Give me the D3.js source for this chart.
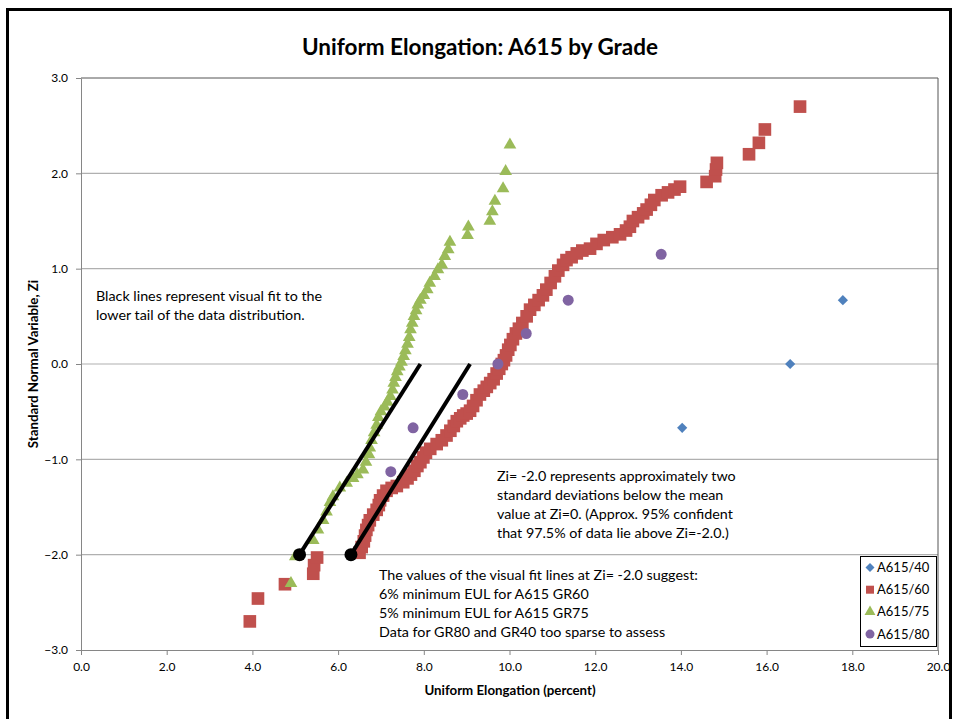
<!DOCTYPE html>
<html>
<head>
<meta charset="utf-8">
<script src="https://cdn.jsdelivr.net/npm/d3@7"></script>
<style>
  body { margin: 0; background: #fff; }
  text { font-family: Lato, "Open Sans", sans-serif; fill: #000; }
</style>
</head>
<body>
<div id="chart"></div>
<script>
// ---- data ----
var xTicks = [0, 2, 4, 6, 8, 10, 12, 14, 16, 18, 20];
var yTicks = [-3, -2, -1, 0, 1, 2, 3];
var seriesNames = ["A615/40", "A615/60", "A615/75", "A615/80"];

// A615/40 : [elongation, Zi]
var gr40 = [[14.03, -0.67], [16.55, 0.0], [17.78, 0.67]];

// A615/60
var gr60 = [
  [3.94, -2.70], [4.13, -2.46], [4.76, -2.31], [5.42, -2.20], [5.44, -2.11], [5.51, -2.03],
  [6.50, -1.98], [6.55, -1.92], [6.60, -1.86], [6.63, -1.80], [6.66, -1.74], [6.70, -1.69],
  [6.74, -1.64], [6.82, -1.58], [6.90, -1.53], [6.95, -1.48], [6.98, -1.43], [7.05, -1.38],
  [7.13, -1.33], [7.25, -1.30], [7.37, -1.28], [7.52, -1.24], [7.62, -1.20], [7.70, -1.16],
  [7.78, -1.12], [7.85, -1.07], [7.92, -1.03], [7.99, -0.98], [8.05, -0.93], [8.15, -0.89],
  [8.30, -0.84], [8.42, -0.80], [8.53, -0.75], [8.62, -0.70], [8.70, -0.65], [8.77, -0.60],
  [8.85, -0.57], [8.92, -0.54], [9.00, -0.52], [9.08, -0.49], [9.15, -0.44], [9.23, -0.38],
  [9.31, -0.32], [9.40, -0.28], [9.47, -0.24], [9.55, -0.20], [9.63, -0.16], [9.70, -0.10],
  [9.76, -0.05], [9.82, 0.00], [9.87, 0.04], [9.92, 0.09], [9.97, 0.15], [10.02, 0.20],
  [10.08, 0.26], [10.15, 0.32], [10.22, 0.37], [10.30, 0.43], [10.40, 0.50], [10.48, 0.57],
  [10.58, 0.62], [10.68, 0.67], [10.78, 0.72], [10.86, 0.78], [10.96, 0.85], [11.06, 0.92],
  [11.14, 0.98], [11.25, 1.04], [11.33, 1.09], [11.45, 1.12], [11.57, 1.16], [11.70, 1.19],
  [11.88, 1.21], [12.03, 1.26], [12.20, 1.30], [12.40, 1.33], [12.58, 1.36], [12.72, 1.40],
  [12.81, 1.44], [12.88, 1.50], [13.00, 1.54], [13.12, 1.58], [13.20, 1.62], [13.30, 1.67],
  [13.38, 1.72], [13.55, 1.77], [13.70, 1.80], [13.85, 1.83], [13.98, 1.86], [14.60, 1.91],
  [14.80, 1.97], [14.82, 2.04], [14.84, 2.11], [15.59, 2.20], [15.82, 2.32], [15.96, 2.46],
  [16.78, 2.70]
];

// A615/75
var gr75 = [
  [4.90, -2.30], [5.00, -2.02], [5.42, -1.85], [5.53, -1.74], [5.65, -1.64], [5.73, -1.55],
  [5.81, -1.45], [5.88, -1.39], [6.04, -1.30], [6.20, -1.25], [6.35, -1.20], [6.45, -1.16],
  [6.58, -1.11], [6.65, -1.03], [6.72, -0.95], [6.74, -0.88], [6.78, -0.80], [6.84, -0.72],
  [6.90, -0.64], [6.94, -0.56], [7.00, -0.50], [7.08, -0.45], [7.15, -0.40], [7.22, -0.34],
  [7.27, -0.27], [7.30, -0.20], [7.34, -0.14], [7.38, -0.08], [7.43, -0.03], [7.48, 0.02],
  [7.53, 0.08], [7.57, 0.14], [7.62, 0.21], [7.66, 0.28], [7.69, 0.36], [7.73, 0.43],
  [7.77, 0.50], [7.82, 0.56], [7.86, 0.62], [7.92, 0.67], [8.00, 0.72], [8.08, 0.78],
  [8.14, 0.85], [8.25, 0.92], [8.33, 0.99], [8.42, 1.04], [8.49, 1.13], [8.57, 1.20],
  [8.61, 1.28], [9.02, 1.35], [9.04, 1.44], [9.54, 1.50], [9.60, 1.60], [9.66, 1.71],
  [9.85, 1.84], [9.91, 2.02], [10.01, 2.30]
];

// A615/80
var gr80 = [[7.23, -1.13], [7.75, -0.67], [8.91, -0.32], [9.73, 0.0], [10.39, 0.32], [11.37, 0.67], [13.54, 1.15]];

// visual fit lines [x at Zi=-2, x at Zi=0]
var fitLines = [[5.1, -2.0, 7.92, 0.0], [6.3, -2.0, 9.08, 0.0]];

var colors = ["#4F81BD", "#C0504D", "#9BBB59", "#8064A2"];

// ---- layout ----
var W = 954, H = 719;
var svg = d3.select("#chart").append("svg")
  .attr("width", W).attr("height", H);

// outer frame
svg.append("rect")
  .attr("x", 7.5).attr("y", 9.5)
  .attr("width", 943).attr("height", 760)
  .attr("fill", "none").attr("stroke", "#000").attr("stroke-width", 3);

var x = d3.scaleLinear().domain([0, 20]).range([81, 938]);
var y = d3.scaleLinear().domain([-3, 3]).range([650, 78]);

// title
svg.append("text")
  .attr("x", 480).attr("y", 55)
  .attr("text-anchor", "middle")
  .style("font-size", "22.5px").style("font-weight", "bold")
  .text("Uniform Elongation: A615 by Grade");

// gridlines
svg.append("g").selectAll("line")
  .data(yTicks.filter(function(d) { return d > -3 && d < 3; }))
  .enter().append("line")
  .attr("x1", x(0)).attr("x2", x(20))
  .attr("y1", function(d) { return y(d); })
  .attr("y2", function(d) { return y(d); })
  .attr("stroke", "#b0b0b0").attr("stroke-width", 1.2);

// plot area border top / right
svg.append("path")
  .attr("d", "M" + x(0) + "," + y(3) + "H" + x(20) + "V" + y(-3))
  .attr("fill", "none").attr("stroke", "#555").attr("stroke-width", 1);

// axes
var xAxis = svg.append("g")
  .attr("transform", "translate(0," + y(-3) + ")")
  .call(d3.axisBottom(x).tickValues(xTicks).tickFormat(d3.format(".1f"))
    .tickSize(5).tickSizeOuter(0).tickPadding(7));
var yAxis = svg.append("g")
  .attr("transform", "translate(" + x(0) + ",0)")
  .call(d3.axisLeft(y).tickValues(yTicks).tickFormat(d3.format(".1f"))
    .tickSize(5).tickSizeOuter(0).tickPadding(8));
[xAxis, yAxis].forEach(function(a) {
  a.select(".domain").attr("stroke", "#868686");
  a.selectAll(".tick line").attr("stroke", "#868686");
  a.selectAll(".tick text").style("font-size", "12px").style("font-family", "Lato, sans-serif");
});

// axis titles
svg.append("text")
  .attr("x", 510).attr("y", 695)
  .attr("text-anchor", "middle")
  .style("font-size", "13.3px").style("font-weight", "bold")
  .text("Uniform Elongation (percent)");
svg.append("text")
  .attr("transform", "translate(38,364) rotate(-90)")
  .attr("text-anchor", "middle")
  .style("font-size", "13.3px").style("font-weight", "bold")
  .text("Standard Normal Variable, Zi");

// markers
var symbols = [
  d3.symbol().type(d3.symbolSquare).size(52),
  d3.symbol().type(d3.symbolSquare).size(160),
  d3.symbol().type(d3.symbolTriangle).size(70),
  d3.symbol().type(d3.symbolCircle).size(95)
];
var rot = [45, 0, 0, 0];
var allSeries = [gr40, gr60, gr75, gr80];

allSeries.forEach(function(s, i) {
  svg.append("g").selectAll("path")
    .data(s).enter().append("path")
    .attr("d", symbols[i])
    .attr("transform", function(d) {
      return "translate(" + x(d[0]) + "," + y(d[1]) + ") rotate(" + rot[i] + ")";
    })
    .attr("fill", colors[i]);
});

// visual fit lines
var fit = svg.append("g");
fit.selectAll("line").data(fitLines).enter().append("line")
  .attr("x1", function(d) { return x(d[0]); })
  .attr("y1", function(d) { return y(d[1]); })
  .attr("x2", function(d) { return x(d[2]); })
  .attr("y2", function(d) { return y(d[3]); })
  .attr("stroke", "#000").attr("stroke-width", 4);
fit.selectAll("circle").data(fitLines).enter().append("circle")
  .attr("cx", function(d) { return x(d[0]); })
  .attr("cy", function(d) { return y(d[1]); })
  .attr("r", 6.5).attr("fill", "#000");

// annotations
function note(x0, y0, lines) {
  var t = svg.append("text").attr("x", x0).attr("y", y0).style("font-size", "14.3px");
  lines.forEach(function(l, i) {
    t.append("tspan").attr("x", x0).attr("dy", i === 0 ? 0 : 19).text(l);
  });
}
note(96, 301, ["Black lines represent visual fit to the", "lower tail of the data distribution."]);
note(497, 481, ["Zi= -2.0 represents approximately two", "standard deviations below the mean",
  "value at Zi=0. (Approx. 95% confident", "that 97.5% of data lie above Zi=-2.0.)"]);
note(379, 580, ["The values of the visual fit lines at Zi= -2.0 suggest:", "6% minimum EUL for A615 GR60",
  "5% minimum EUL for A615 GR75", "Data for GR80 and GR40 too sparse to assess"]);

// legend
var lg = svg.append("g");
lg.append("rect")
  .attr("x", 860.5).attr("y", 556.5).attr("width", 76).attr("height", 90)
  .attr("fill", "#fff").attr("stroke", "#000").attr("stroke-width", 1);
var legSym = [
  d3.symbol().type(d3.symbolSquare).size(40),
  d3.symbol().type(d3.symbolSquare).size(64),
  d3.symbol().type(d3.symbolTriangle).size(52),
  d3.symbol().type(d3.symbolCircle).size(64)
];
seriesNames.forEach(function(n, i) {
  var yy = 567.5 + i * 22.2;
  lg.append("path").attr("d", legSym[i])
    .attr("transform", "translate(870," + yy + ") rotate(" + rot[i] + ")")
    .attr("fill", colors[i]);
  lg.append("text").attr("x", 877).attr("y", yy + 4.5)
    .style("font-size", "13px").text(n);
});
</script>
</body>
</html>
